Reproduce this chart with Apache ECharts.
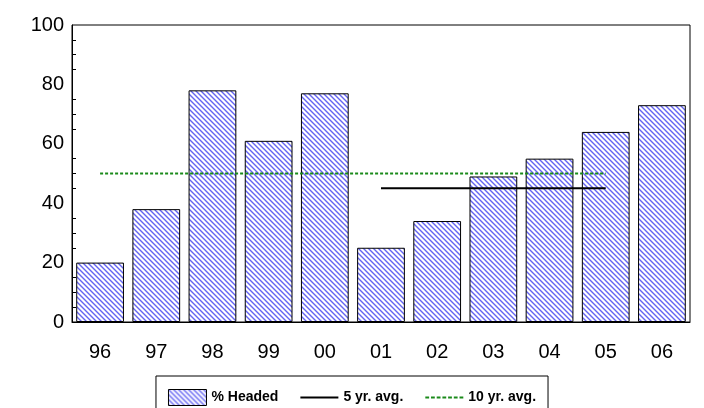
<!DOCTYPE html>
<html><head><meta charset="utf-8">
<script src="https://cdn.jsdelivr.net/npm/echarts@6/dist/echarts.min.js"></script>
<style>body{margin:0}#c{width:704px;height:408px}</style></head>
<body><div id="c"></div>
<script>
var years = ['96','97','98','99','00','01','02','03','04','05','06'];
var headed = [20, 38, 78, 61, 77, 25, 34, 49, 55, 64, 73];
var avg5 = ['-','-','-','-','-',45,45,45,45,45,'-'];
var avg10 = [50,50,50,50,50,50,50,50,50,50,'-'];

// hatch pattern
var pc = document.createElement('canvas');
pc.width = 5; pc.height = 5;
var g = pc.getContext('2d');
g.fillStyle = '#fff'; g.fillRect(0, 0, 5, 5);
g.strokeStyle = '#6464f2'; g.lineWidth = 1.4;
g.beginPath();
g.moveTo(-1, -1); g.lineTo(6, 6);
g.moveTo(-4, 1); g.lineTo(4, 9);
g.moveTo(1, -4); g.lineTo(9, 4);
g.stroke();
var hatch = {image: pc, repeat: 'repeat'};

var lineIcon = 'path://M0,7L40,7L40,9L0,9Z';
var dashIcon = 'path://M0,7L4,7L4,9L0,9ZM6,7L10,7L10,9L6,9ZM12,7L16,7L16,9L12,9ZM18,7L22,7L22,9L18,9ZM24,7L28,7L28,9L24,9ZM30,7L34,7L34,9L30,9ZM36,7L40,7L40,9L36,9Z';

var chart = echarts.init(document.getElementById('c'));
chart.setOption({
  backgroundColor: '#fff',
  animation: false,
  grid: {left: 72, right: 14, top: 25, bottom: 86, show: true, borderColor: '#000', borderWidth: 1},
  xAxis: {
    type: 'category', data: years,
    axisLine: {lineStyle: {color: '#000'}},
    axisTick: {inside: true, alignWithLabel: true, length: 6, lineStyle: {color: '#000'}},
    axisLabel: {color: '#000', fontSize: 20, fontFamily: 'Liberation Sans', margin: 20}
  },
  yAxis: {
    type: 'value', min: 0, max: 100, interval: 20,
    axisLine: {show: true, lineStyle: {color: '#000'}},
    axisTick: {inside: true, length: 8, lineStyle: {color: '#000'}},
    minorTick: {show: true, splitNumber: 4, length: 4, lineStyle: {color: '#000'}},
    splitLine: {show: false},
    axisLabel: {color: '#000', fontSize: 20, fontFamily: 'Liberation Sans', margin: 8}
  },
  legend: {
    top: 376, left: 'center',
    borderColor: '#000', borderWidth: 1, padding: [13, 12, 6, 12],
    itemGap: 22,
    textStyle: {color: '#000', fontWeight: 'bold', fontSize: 14, fontFamily: 'Liberation Sans'},
    data: [
      {name: '% Headed', icon: 'rect', itemStyle: {color: hatch, borderColor: '#000', borderWidth: 1}},
      {name: '5 yr. avg.', icon: lineIcon, itemStyle: {color: '#000'}},
      {name: '10 yr. avg.', icon: dashIcon, itemStyle: {color: '#1a8a1a'}}
    ],
    itemWidth: 38, itemHeight: 16
  },
  series: [
    {name: '% Headed', type: 'bar', data: headed, barCategoryGap: '15%',
     itemStyle: {color: hatch, borderColor: '#000', borderWidth: 1}},
    {name: '5 yr. avg.', type: 'line', data: avg5, symbol: 'none',
     lineStyle: {color: '#000', width: 2}, itemStyle: {color: '#000'}},
    {name: '10 yr. avg.', type: 'line', data: avg10, symbol: 'none',
     lineStyle: {color: '#1a8a1a', width: 2, type: [3, 2]}, itemStyle: {color: '#1a8a1a'}}
  ]
});
</script></body></html>
